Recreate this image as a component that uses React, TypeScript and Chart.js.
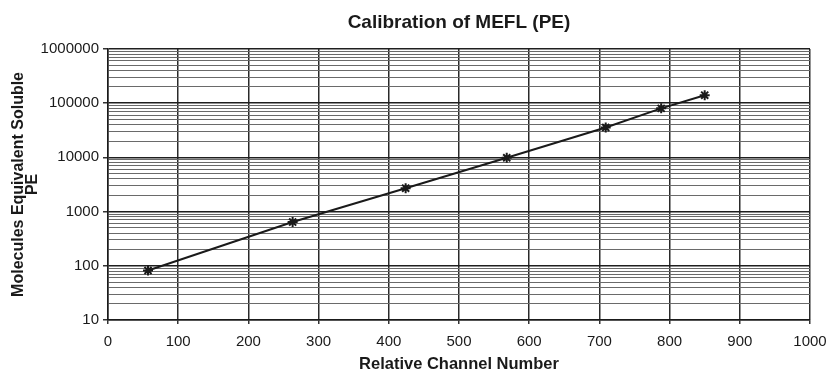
import React, { useEffect, useRef } from "react";
import { Chart, registerables } from "chart.js";

Chart.register(...registerables);

const titleText = "Calibration of MEFL (PE)";
const xTitle = "Relative Channel Number";
const yTitle = ["Molecules Equivalent Soluble", "PE"];

const channels = [57, 263, 424, 568, 709, 788, 850];
const mefl = [82, 640, 2700, 9800, 35500, 80000, 140000];

const xMin = 0;
const xMax = 1000;
const xStep = 100;
const yMin = 10;
const yMax = 1000000;

const FONT = "'Liberation Sans', Arial, sans-serif";

function isMajor(v: number) {
  const l = Math.log10(v);
  return Math.abs(l - Math.round(l)) < 1e-9;
}

export default function App() {
  const ref = useRef<HTMLCanvasElement | null>(null);
  useEffect(() => {
    if (!ref.current) return;
    const chart = new Chart(ref.current, {
      type: "line",
      data: {
        datasets: [
          {
            data: channels.map((x, i) => ({ x, y: mefl[i] })),
            borderColor: "#1a1a1a",
            borderWidth: 2,
            pointStyle: "star",
            pointRadius: 5,
            pointBorderWidth: 2,
            pointBorderColor: "#1a1a1a",
            pointBackgroundColor: "#1a1a1a",
            tension: 0,
          },
        ],
      },
      options: {
        responsive: false,
        animation: false,
        layout: { padding: { left: 0, right: 16, top: 0, bottom: 0 } },
        plugins: {
          legend: { display: false },
          tooltip: { enabled: false },
          title: {
            display: true,
            text: titleText,
            fullSize: false,
            color: "#1a1a1a",
            font: { family: FONT, size: 19, weight: "bold", lineHeight: 1.1 },
            padding: { top: 12, bottom: 16 },
          },
        },
        scales: {
          x: {
            type: "linear",
            min: xMin,
            max: xMax,
            ticks: {
              stepSize: xStep,
              color: "#1a1a1a",
              font: { family: FONT, size: 15 },
              padding: 9,
              maxRotation: 0,
              autoSkip: false,
              callback: (v: any) => String(Math.round(Number(v))),
            },
            grid: {
              color: "#2a2a2a",
              lineWidth: 1.5,
              tickLength: 4,
              tickColor: "#333",
            },
            border: { color: "#1a1a1a", width: 1.5 },
            title: {
              display: true,
              text: xTitle,
              color: "#1a1a1a",
              font: { family: FONT, size: 16.5, weight: "bold" },
              padding: { top: 0, bottom: 1.2 },
            },
            afterFit: (s: any) => {
              s.height = 56;
              s.paddingLeft = 0;
              s.paddingRight = 0;
            },
          },
          y: {
            type: "logarithmic",
            min: yMin,
            max: yMax,
            afterBuildTicks: (s: any) => {
              const t: { value: number }[] = [];
              for (let d = yMin; d < yMax; d *= 10) {
                for (let m = 1; m < 10; m++) t.push({ value: d * m });
              }
              t.push({ value: yMax });
              s.ticks = t;
            },
            ticks: {
              autoSkip: false,
              color: "#1a1a1a",
              font: { family: FONT, size: 15 },
              padding: 4,
              callback: (v: any) => (isMajor(Number(v)) ? String(Math.round(Number(v))) : ""),
            },
            grid: {
              color: (c: any) => (c.tick && isMajor(c.tick.value) ? "#1f1f1f" : "#6a6a6a"),
              lineWidth: (c: any) => (c.tick && isMajor(c.tick.value) ? 1.5 : 1),
              tickLength: 5,
              tickColor: (c: any) => (c.tick && isMajor(c.tick.value) ? "#333" : "rgba(0,0,0,0)"),
            },
            border: { color: "#1a1a1a", width: 1.5 },
            title: {
              display: true,
              text: yTitle,
              color: "#1a1a1a",
              font: { family: FONT, size: 16, weight: "bold", lineHeight: 0.85 },
              padding: { top: 12, bottom: 0 },
            },
            afterFit: (s: any) => {
              s.width = 108;
              s.paddingTop = 0;
              s.paddingBottom = 0;
            },
          },
        },
      },
    } as any);
    return () => chart.destroy();
  }, []);
  return (
    <div style={{ position: "fixed", left: 0, top: 0, width: 826, height: 376, background: "#fff" }}>
      <canvas ref={ref} width={826} height={376} />
    </div>
  );
}
